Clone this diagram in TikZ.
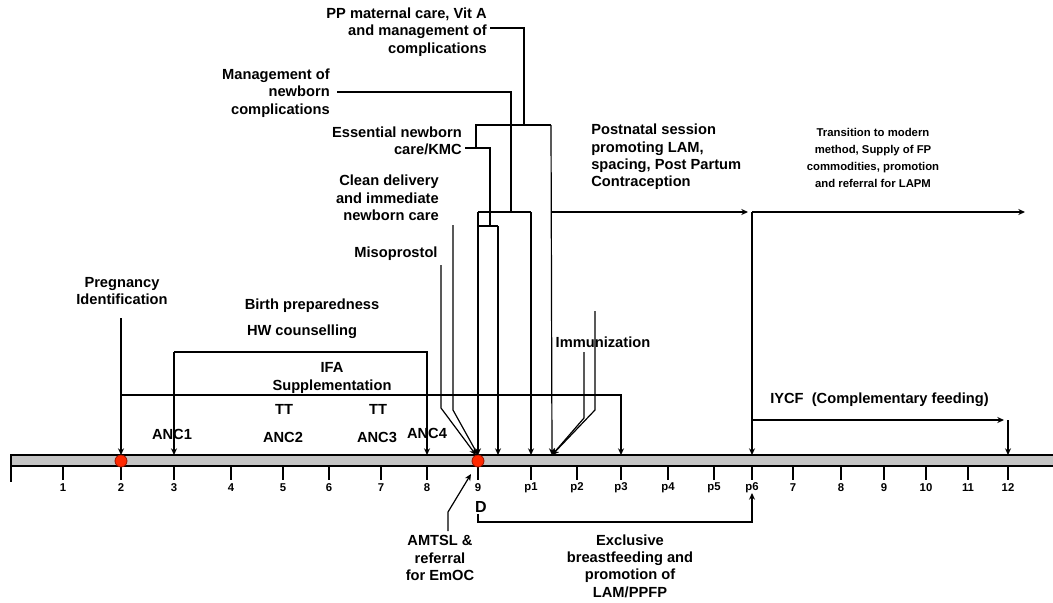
\documentclass[tikz,border=0pt]{standalone}
\usepackage{fontspec}
\setmainfont{Liberation Sans}
\usetikzlibrary{arrows.meta}
\definecolor{barfill}{RGB}{196,196,196}
\definecolor{dotfill}{RGB}{255,40,0}
\definecolor{dotline}{RGB}{150,20,0}
\begin{document}
\begin{tikzpicture}[x=0.75pt,y=-0.75pt,
  conn/.style={line width=0.9pt, draw=black},
  arr/.style={conn, -{Stealth[length=5pt,width=4.5pt]}},
  lbl/.style={font=\fontsize{11}{13}\selectfont\bfseries, inner sep=0pt},
  small/.style={font=\fontsize{8.5}{12.8}\selectfont\bfseries, inner sep=0pt},
  ticklbl/.style={font=\fontsize{8.5}{9}\selectfont\bfseries, inner sep=0pt},
  tickline/.style={line width=1.2pt},
  dot/.style={circle, fill=dotfill, draw=dotline, line width=0.6pt, minimum size=9pt, inner sep=0pt}
]
\useasboundingbox (0,0) rectangle (1053,603);

% ---- time bar ----
\draw[line width=1pt, fill=barfill] (11,455) rectangle (1070,466);
\draw[line width=1pt] (11,455) -- (11,482);
\foreach \x/\t in {63/1,121/2,174/3,231/4,283/5,329/6,381/7,427/8,478/9,
                   531/p1,577/p2,621/p3,668/p4,714/p5,752/p6,
                   793/7,841/8,884/9,926/10,968/11,1008/12}{
  \draw[tickline] (\x,466) -- (\x,480);
  \node[ticklbl] at (\x,488) {\t};
}
\node[dot] (d2) at (121,461) {};
\node[dot] (d9) at (478,461) {};

% targets on the bar
\coordinate (tPreg) at (121,455);
\coordinate (tANC1) at (174,455);
\coordinate (tANC4) at (427,455);
\coordinate (tD)    at (478,455);
\coordinate (tDm)   at (476,455);
\coordinate (tD2)   at (498,455);
\coordinate (tP1)   at (531,455);
\coordinate (tImm)  at (552,455);
\coordinate (tP3)   at (621,455);
\coordinate (tP6)   at (752,455);
\coordinate (t12)   at (1008,455);

% ---- labels ----
\node[lbl, align=right, anchor=east] (pp) at (487,32) {PP maternal care, Vit A\\and management of\\complications};
\node[lbl, align=right, anchor=east] (mgmt) at (330,93) {Management of\\newborn\\complications};
\node[lbl, align=right, anchor=east] (ess) at (462,141) {Essential newborn\\care/KMC};
\node[lbl, align=right, anchor=east] (clean) at (439,198) {Clean delivery\\and immediate\\newborn care};
\node[lbl] (miso) at (396,254) {Misoprostol};
\node[lbl, align=center] (preg) at (122,291) {Pregnancy\\Identification};
\node[lbl] (birth) at (312,306) {Birth preparedness};
\node[lbl] (hw) at (302,332) {HW counselling};
\node[lbl, align=center] (ifa) at (332,378) {IFA\\Supplementation};
\node[lbl] (tt1) at (284,409) {TT};
\node[lbl] (tt2) at (378,409) {TT};
\node[lbl] (anc1) at (172,434) {ANC1};
\node[lbl] (anc2) at (283,437) {ANC2};
\node[lbl] (anc3) at (377,437) {ANC3};
\node[lbl] (anc4) at (427,433) {ANC4};
\node[lbl] (imm) at (603,342) {Immunization};
\node[lbl, align=left, anchor=west] (post) at (591,157) {Postnatal session\\promoting LAM,\\spacing, Post Partum\\Contraception};
\node[small, align=center] (trans) at (873,158) {Transition to modern\\method, Supply of FP\\commodities, promotion\\and referral for LAPM};
\node[lbl, anchor=west] (iycf) at (770,400) {IYCF\ \ (Complementary feeding)};
\node[font=\fontsize{12}{14}\selectfont\bfseries, inner sep=0pt] (D) at (481,507) {D};
\node[lbl, align=center] (amtsl) at (440,558) {AMTSL \&\\referral\\for EmOC};
\node[lbl, align=center] (excl) at (630,566) {Exclusive\\breastfeeding and\\promotion of\\LAM/PPFP};

% ---- connectors ----
% Pregnancy identification and IFA
\coordinate (pregS) at (121,318);
\draw[arr] (pregS) -- (tPreg);
\coordinate (ifaL) at (121,395);
\draw[arr] (ifaL) -| (tP3);
% HW counselling
\coordinate (hwL) at (174,352);
\draw[arr] (hwL) -| (tANC4);
\draw[arr] (hwL) -- (tANC1);
% Misoprostol
\coordinate (misoS) at (441,265);
\coordinate (misoB) at (441,408);
\draw[arr] (misoS) -- (misoB) -- (tDm);
% Clean delivery
\coordinate (cleanS) at (453,225);
\coordinate (cleanB) at (453,410);
\draw[arr] (cleanS) -- (cleanB) -- (tD);
% Management of newborn complications
\coordinate (mgmtE) at (337,92);
\coordinate (mgmtJ) at (511,212);
\draw[conn] (mgmtE) -| (mgmtJ);
\coordinate (brA) at (478,212);
\coordinate (brB) at (531,212);
\draw[conn] (brA) -- (brB);
\draw[arr] (brA) -- (tD);
\draw[arr] (brB) -- (tP1);
% Essential newborn care
\coordinate (essE) at (465,148);
\coordinate (essJ) at (490,226);
\draw[conn] (essE) -| (essJ);
\coordinate (brC) at (478,226);
\coordinate (brD) at (498,226);
\draw[conn] (brC) -- (brD);
\draw[arr] (brD) -- (tD2);
% PP maternal care
\coordinate (ppE) at (490,28);
\coordinate (ppJ) at (524,125);
\draw[conn] (ppE) -| (ppJ);
\coordinate (brE2) at (476,148);
\coordinate (brF) at (551,125);
\draw[conn] (brE2) |- (brF);
\draw[arr] (brF) -- (tImm);
% Postnatal session and transition
\coordinate (pnL) at (551,212);
\coordinate (pnR) at (748,212);
\draw[arr] (pnL) -- (pnR);
\coordinate (trL) at (752,212);
\coordinate (trR) at (1025,212);
\draw[arr] (trL) -- (trR);
\draw[arr] (trL) -- (tP6);
% Immunization
\coordinate (imA) at (595,311);
\coordinate (imAb) at (595,410);
\coordinate (imB) at (584,352);
\coordinate (imBb) at (584,418);
\draw[arr] (imA) -- (imAb) -- (tImm);
\draw[arr] (imB) -- (imBb) -- (tImm);
% IYCF
\coordinate (iyL) at (752,420);
\coordinate (iyR) at (1004,420);
\draw[arr] (iyL) -- (iyR);
\coordinate (iyD) at (1008,420);
\draw[arr] (iyD) -- (t12);
% Exclusive breastfeeding
\coordinate (exA) at (478,514);
\coordinate (exC) at (752,522);
\coordinate (exT) at (752,493);
\draw[arr] (exA) |- (exC) -- (exT);
% AMTSL
\coordinate (amS) at (448,531);
\coordinate (amB) at (448,512);
\coordinate (amT) at (471,474);
\draw[arr] (amS) -- (amB) -- (amT);
\end{tikzpicture}
\end{document}
